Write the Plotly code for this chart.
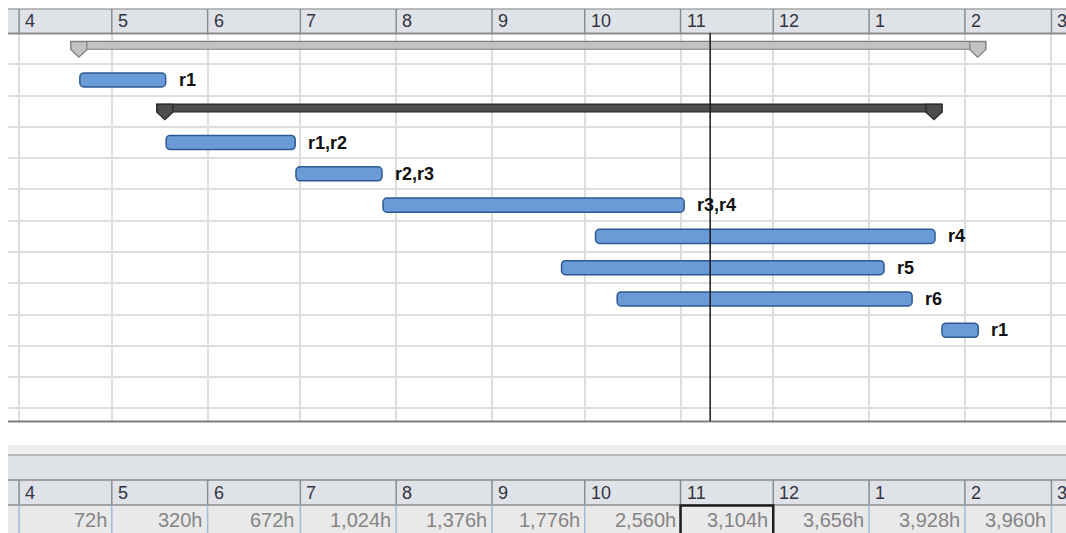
import pandas as pd
import plotly.graph_objects as go

# timescale: one column per month, plus the cumulative hours row at the bottom
month_starts = ["2010-04-01", "2010-05-01", "2010-06-01", "2010-07-01", "2010-08-01", "2010-09-01",
                "2010-10-01", "2010-11-01", "2010-12-01", "2011-01-01", "2011-02-01", "2011-03-01"]
month_labels = ["4", "5", "6", "7", "8", "9", "10", "11", "12", "1", "2", "3"]
hour_totals = ["72h", "320h", "672h", "1,024h", "1,376h", "1,776h", "2,560h",
               "3,104h", "3,656h", "3,928h", "3,960h"]
selected_month = "11"

# gantt rows, top to bottom
row_kind = ["summary_light", "task", "summary_dark", "task", "task",
            "task", "task", "task", "task", "task"]
starts = ["2010-04-17 18:00", "2010-04-20 16:00", "2010-05-15 14:00", "2010-05-18 14:00",
          "2010-06-29 14:00", "2010-07-27 18:00", "2010-10-04 12:00", "2010-09-23 12:00",
          "2010-10-11 12:00", "2011-01-24 14:00"]
finishes = ["2011-02-07 18:00", "2010-05-18 10:00", "2011-01-24 14:00", "2010-06-29 08:00",
            "2010-07-27 10:00", "2010-11-02 04:00", "2011-01-22 08:00", "2011-01-05 20:00",
            "2011-01-14 22:00", "2011-02-05 08:00"]
labels = ["", "r1", "", "r1,r2", "r2,r3", "r3,r4", "r4", "r5", "r6", "r1"]
today = "2010-11-10 14:00"

x_range = ["2010-03-28 10:00", "2011-03-05 17:00"]

FONT = "Liberation Sans, Arial, sans-serif"
WIDTH, HEIGHT = 1066, 533
PLOT_LEFT, PLOT_TOP, PLOT_BOTTOM = 8, 33, 421


def py(pixel_y):
    # figure pixel row -> paper coordinate
    return (PLOT_BOTTOM - pixel_y) / (PLOT_BOTTOM - PLOT_TOP)


def duration_ms(start, finish):
    return (pd.to_datetime(finish) - pd.to_datetime(start)).total_seconds() * 1000


fig = go.Figure()

# task bars
task_rows = [i for i, k in enumerate(row_kind) if k == "task"]
fig.add_trace(go.Bar(
    orientation="h",
    y=task_rows,
    base=[starts[i] for i in task_rows],
    x=[duration_ms(starts[i], finishes[i]) for i in task_rows],
    width=0.45,
    marker=dict(color="#6b9bd6", line=dict(color="#2d5a92", width=1.5), cornerradius=4),
    hoverinfo="skip",
))

# summary bars (thin, sitting in the top half of their row)
summary_style = {"summary_light": ("#c2c2c2", "#7f7f7f"), "summary_dark": ("#4d4d4d", "#262626")}
for kind, (fill, edge) in summary_style.items():
    rows = [i for i, k in enumerate(row_kind) if k == kind]
    fig.add_trace(go.Bar(
        orientation="h",
        y=rows,
        base=[starts[i] for i in rows],
        x=[duration_ms(starts[i], finishes[i]) for i in rows],
        width=0.25,
        offset=-0.23,
        marker=dict(color=fill, line=dict(color=edge, width=1.2)),
        hoverinfo="skip",
    ))

shapes = []

# summary end caps: small pointed tabs anchored at start and finish
for i, kind in enumerate(row_kind):
    if kind not in summary_style:
        continue
    fill, edge = summary_style[kind]
    for anchor, path in [(starts[i], "M0,7 L16,7 L16,-1 L8,-8.5 L0,-1 Z"),
                         (finishes[i], "M-16,7 L0,7 L0,-1 L-8,-8.5 L-16,-1 Z")]:
        shapes.append(dict(type="path", xref="x", yref="y", xsizemode="pixel", ysizemode="pixel",
                           xanchor=anchor, yanchor=i, path=path,
                           fillcolor=fill, line=dict(color=edge, width=1.2)))

# top timescale header
shapes.append(dict(type="rect", xref="paper", yref="paper", x0=0, x1=1, y0=py(33), y1=py(9),
                   fillcolor="#dfe3e8", line_width=0, layer="below"))
shapes.append(dict(type="line", xref="paper", yref="paper", x0=0, x1=1, y0=py(9), y1=py(9),
                   line=dict(color="#a6a6a6", width=1.5)))
shapes.append(dict(type="line", xref="paper", yref="paper", x0=0, x1=1, y0=py(33.5), y1=py(33.5),
                   line=dict(color="#8c8c8c", width=2)))
for m in month_starts:
    shapes.append(dict(type="line", xref="x", yref="paper", x0=m, x1=m, y0=py(33), y1=py(9),
                       line=dict(color="#8c8c8c", width=1.5)))

# bottom edge of the chart
shapes.append(dict(type="line", xref="paper", yref="paper", x0=0, x1=1, y0=py(421.5), y1=py(421.5),
                   line=dict(color="#7d7d7d", width=2)))

# lower usage panel
shapes.append(dict(type="rect", xref="paper", yref="paper", x0=0, x1=1, y0=py(455), y1=py(445),
                   fillcolor="#eeeeee", line_width=0))
shapes.append(dict(type="rect", xref="paper", yref="paper", x0=0, x1=1, y0=py(505), y1=py(455),
                   fillcolor="#dfe3e8", line_width=0))
shapes.append(dict(type="rect", xref="paper", yref="paper", x0=0, x1=1, y0=py(545), y1=py(505),
                   fillcolor="#e9e9e9", line_width=0))
for yy, col in [(455, "#a8a8a8"), (480, "#8c8c8c"), (505, "#8c8c8c")]:
    shapes.append(dict(type="line", xref="paper", yref="paper", x0=0, x1=1, y0=py(yy), y1=py(yy),
                       line=dict(color=col, width=1.5)))
for m in month_starts:
    shapes.append(dict(type="line", xref="x", yref="paper", x0=m, x1=m, y0=py(505), y1=py(480),
                       line=dict(color="#8c8c8c", width=1.5)))
    shapes.append(dict(type="line", xref="x", yref="paper", x0=m, x1=m, y0=py(545), y1=py(505),
                       line=dict(color="#a3bbdb", width=1.5)))

# selected cell in the hours row
sel = month_labels.index(selected_month)
shapes.append(dict(type="rect", xref="x", yref="paper", x0=month_starts[sel], x1=month_starts[sel + 1],
                   y0=py(550), y1=py(505.5), line=dict(color="#1e1e1e", width=2.5)))

# status date line
shapes.append(dict(type="line", xref="x", yref="paper", x0=today, x1=today, y0=0, y1=1,
                   line=dict(color="#1a1a1a", width=1.5)))

annotations = []
for m, lab in zip(month_starts, month_labels):
    for yy in (21, 493):
        annotations.append(dict(x=m, y=py(yy), xref="x", yref="paper", text=lab, showarrow=False,
                                xanchor="left", yanchor="middle", xshift=4,
                                font=dict(family=FONT, size=18, color="#333340")))
for i, val in enumerate(hour_totals):
    annotations.append(dict(x=month_starts[i + 1], y=py(520), xref="x", yref="paper", text=val,
                            showarrow=False, xanchor="right", yanchor="middle", xshift=-3,
                            font=dict(family=FONT, size=20, color="#858585")))
for i, lab in enumerate(labels):
    if lab:
        annotations.append(dict(x=finishes[i], y=i, xref="x", yref="y", text="<b>" + lab + "</b>",
                                showarrow=False, xanchor="left", yanchor="middle", xshift=11,
                                font=dict(family=FONT, size=18, color="#111111")))

fig.update_layout(
    width=WIDTH, height=HEIGHT,
    margin=dict(l=PLOT_LEFT, r=0, t=PLOT_TOP, b=HEIGHT - PLOT_BOTTOM),
    paper_bgcolor="white", plot_bgcolor="white",
    showlegend=False, barmode="overlay",
    xaxis=dict(type="date", range=x_range, tickvals=month_starts, showticklabels=False, ticks="",
               showgrid=True, gridcolor="#dedede", gridwidth=2, zeroline=False, showline=False),
    yaxis=dict(range=[11.9, -0.5], tickvals=[i + 0.5 for i in range(12)], showticklabels=False,
               ticks="", showgrid=True, gridcolor="#dedede", gridwidth=2, zeroline=False),
    shapes=shapes,
    annotations=annotations,
)

# pin the figure to the window corner so nothing overflows into scrollbars
page_css = ("document.documentElement.style.overflow='hidden';"
            "document.body.style.margin='0';document.body.style.overflow='hidden';")
fig.write_html("out.html", post_script=page_css, config={"displayModeBar": False})
